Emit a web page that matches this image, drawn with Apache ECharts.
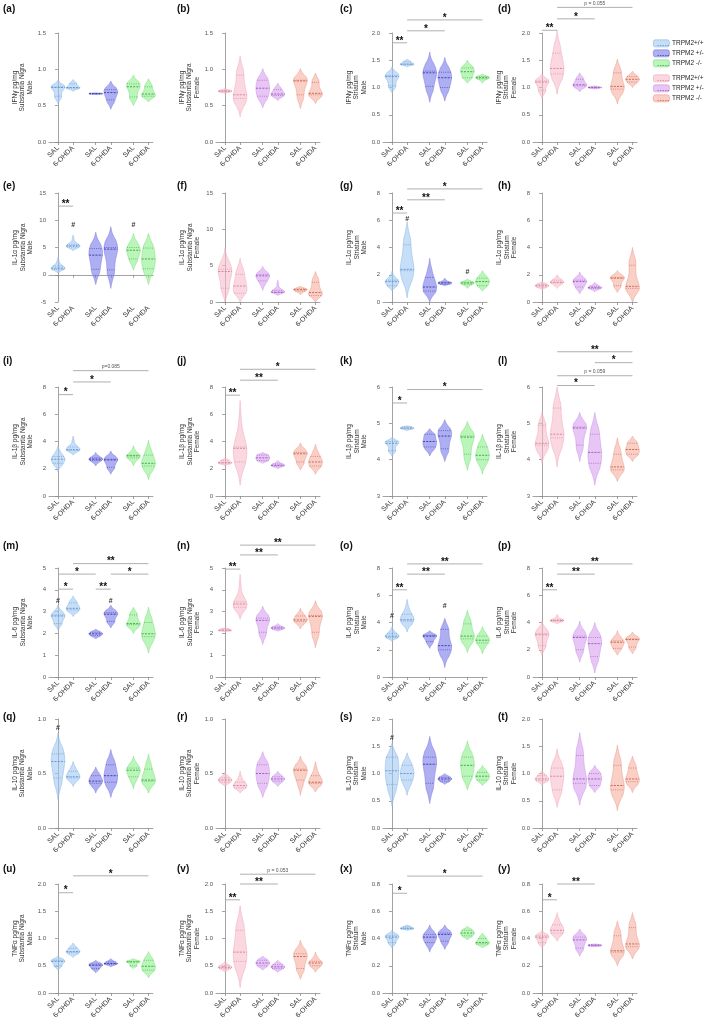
<!DOCTYPE html>
<html>
<head>
<meta charset="utf-8">
<script src="https://cdn.jsdelivr.net/npm/echarts@6.0.0/dist/echarts.min.js"></script>
<style>
html, body { margin: 0; padding: 0; background: #fff; }
#chart { width: 709px; height: 1023px; }
</style>
</head>
<body>
<div id="chart"></div>
<script>
// panel labels / axis titles
var panelLetters = ['a','b','c','d','e','f','g','h','i','j','k','l','m','n','o','p','q','r','s','t','u','v','x','y'];
var cytokines = ['IFNγ', 'IL-1α', 'IL-1β', 'IL-6', 'IL-10', 'TNFα'];
var regions = ['Substantia Nigra', 'Substantia Nigra', 'Striatum', 'Striatum'];
var sexes = ['Male', 'Female', 'Male', 'Female'];
var legendLabels = ['TRPM2+/+', 'TRPM2 +/-', 'TRPM2 -/-'];

// y axis per panel
var yMin  = [0, 0, 0, 0,   -5, 0, 0, 0,   0, 0, 3, 3,   0, 0, 0, 0,   0, 0, 0, 0,   0, 0, 0, 0];
var yMax  = [1.5, 1.5, 2, 2,   15, 15, 8, 8,   8, 8, 6, 6,   5, 5, 8, 8,   1, 1, 2, 2,   2, 2, 0.8, 0.8];
var yStep = [0.5, 0.5, 0.5, 0.5,   5, 5, 2, 2,   2, 2, 1, 1,   1, 1, 2, 2,   0.5, 0.5, 0.5, 0.5,   0.5, 0.5, 0.2, 0.2];

// x categories (TRPM2+/+ SAL, 6-OHDA, TRPM2+/- SAL, 6-OHDA, TRPM2-/- SAL, 6-OHDA)
var xPos = [0, 1, 2.5, 3.5, 5, 6];
var xLabels = ['SAL', '6-OHDA', 'SAL', '6-OHDA', 'SAL', '6-OHDA'];

// violins: [min, Q1, median, Q3, max] per group
var violinA = [[0.53,0.63,0.75,0.76,0.85],[0.70,0.74,0.75,0.80,0.86],[0.655,0.66,0.665,0.67,0.675],[0.45,0.58,0.68,0.72,0.84],[0.50,0.62,0.76,0.80,0.92],[0.55,0.63,0.66,0.76,0.87]];
var violinB = [[0.67,0.69,0.70,0.71,0.74],[0.35,0.60,0.65,0.92,1.18],[0.47,0.63,0.74,0.85,1.01],[0.57,0.64,0.66,0.72,0.81],[0.46,0.65,0.84,0.85,1.01],[0.53,0.65,0.67,0.82,0.95]];
var violinC = [[0.90,1.03,1.20,1.22,1.38],[1.38,1.42,1.43,1.47,1.52],[0.73,1.02,1.27,1.30,1.65],[0.75,1.00,1.18,1.28,1.55],[1.08,1.18,1.29,1.36,1.50],[1.08,1.16,1.18,1.20,1.25]];
var violinD = [[0.80,0.95,1.10,1.12,1.25],[0.88,1.25,1.35,1.63,2.05],[0.92,1.03,1.05,1.15,1.27],[0.97,0.99,1.00,1.01,1.03],[0.70,0.97,1.02,1.27,1.52],[1.00,1.10,1.15,1.20,1.30]];
var violinE = [[0.3,1.0,1.2,1.6,3.2],[4.4,5.1,5.3,5.5,7.3],[-1.8,1.0,3.6,4.8,7.8],[-2.5,0.9,4.7,5.0,8.8],[0.8,2.9,4.5,5.0,7.6],[-1.8,1.1,2.9,4.9,7.6]];
var violinF = [[0.0,1.9,4.2,4.5,7.4],[0.0,1.2,2.2,3.8,6.0],[1.6,2.9,3.6,3.8,4.9],[0.9,1.3,1.35,1.6,3.0],[1.0,1.5,1.7,1.8,2.2],[0.0,0.9,1.3,2.7,4.2]];
var violinG = [[0.8,1.2,1.5,1.6,2.25],[0.3,2.3,2.4,4.2,5.9],[0.0,0.8,1.1,1.8,3.2],[1.2,1.3,1.4,1.45,1.75],[1.0,1.3,1.4,1.45,1.7],[0.8,1.2,1.5,1.75,2.3]];
var violinH = [[0.9,1.1,1.2,1.3,1.5],[1.0,1.4,1.45,1.6,2.0],[0.6,1.1,1.5,1.6,2.2],[0.75,1.0,1.05,1.15,1.45],[0.7,1.2,1.75,1.8,2.3],[0.0,1.0,1.15,2.7,4.0]];
var violinI = [[1.8,2.4,2.7,2.9,3.7],[3.0,3.35,3.4,3.6,4.4],[2.2,2.6,2.7,2.8,3.2],[1.6,2.1,2.65,2.7,3.3],[2.2,2.8,2.95,3.0,3.7],[1.2,2.2,2.4,3.0,4.1]];
var violinJ = [[2.2,2.4,2.45,2.6,2.8],[0.8,2.5,3.5,3.6,7.0],[2.4,2.6,2.8,3.0,3.2],[2.0,2.2,2.25,2.35,2.6],[1.9,2.5,3.1,3.2,3.9],[1.6,2.2,2.5,2.9,3.8]];
var violinK = [[4.1,4.25,4.45,4.5,4.62],[4.8,4.85,4.87,4.9,4.93],[4.1,4.35,4.5,4.7,4.85],[3.95,4.3,4.65,4.8,5.1],[3.7,4.15,4.62,4.65,5.05],[3.6,4.0,4.12,4.35,4.7]];
var violinL = [[3.9,4.4,4.45,4.95,5.3],[3.8,4.6,4.7,5.42,6.0],[3.95,4.4,4.87,4.9,5.3],[3.3,3.9,4.2,4.7,5.3],[3.4,3.72,3.8,4.15,4.6],[3.95,4.15,4.28,4.45,4.65]];
var violinM = [[2.15,2.45,2.8,2.85,3.3],[2.77,3.08,3.15,3.4,3.72],[1.75,1.9,1.98,2.05,2.2],[2.25,2.55,2.88,2.95,3.3],[2.0,2.4,2.45,2.85,3.2],[1.1,1.85,1.98,2.5,3.2]];
var violinN = [[2.08,2.12,2.15,2.2,2.25],[2.65,3.2,3.35,3.45,4.7],[1.5,2.05,2.6,2.7,3.25],[2.1,2.2,2.25,2.3,2.45],[2.2,2.55,2.62,2.8,3.15],[1.35,2.05,2.78,2.82,3.5]];
var violinO = [[2.6,2.9,3.0,3.2,3.7],[3.3,4.1,4.2,4.6,5.7],[2.1,2.6,3.0,3.05,3.4],[0.7,2.0,2.3,3.5,4.3],[1.8,2.8,3.0,3.9,4.9],[1.7,2.5,2.7,3.0,3.7]];
var violinP = [[1.6,2.3,3.1,3.2,4.1],[3.9,4.1,4.15,4.2,4.6],[1.1,2.0,2.9,3.0,4.1],[0.3,1.5,2.45,2.9,4.0],[1.6,2.1,2.55,2.65,3.4],[1.7,2.2,2.75,2.8,3.3]];
var violinQ = [[0.26,0.46,0.61,0.68,0.87],[0.38,0.46,0.47,0.52,0.61],[0.32,0.41,0.43,0.48,0.56],[0.28,0.42,0.48,0.58,0.72],[0.36,0.47,0.53,0.55,0.66],[0.32,0.43,0.44,0.54,0.68]];
var violinR = [[0.38,0.42,0.44,0.46,0.51],[0.32,0.37,0.39,0.42,0.52],[0.28,0.41,0.5,0.58,0.70],[0.38,0.43,0.45,0.47,0.52],[0.3,0.44,0.53,0.54,0.66],[0.33,0.41,0.42,0.48,0.61]];
var violinS = [[0.4,0.8,1.05,1.3,1.55],[0.6,0.88,1.0,1.15,1.38],[0.45,0.82,1.17,1.3,1.68],[0.8,0.86,0.9,0.93,1.0],[0.7,0.95,1.15,1.3,1.6],[0.78,0.88,0.95,1.02,1.15]];
var violinT = [[0.78,0.87,0.9,0.96,1.05],[0.38,0.7,0.95,1.1,1.45],[0.42,0.82,0.9,1.33,1.75],[0.65,0.78,0.9,1.0,1.15],[0.32,0.7,0.78,1.15,1.52],[0.65,0.85,0.9,1.1,1.32]];
var violinU = [[0.42,0.5,0.58,0.6,0.68],[0.65,0.74,0.76,0.82,0.92],[0.37,0.45,0.51,0.53,0.6],[0.48,0.53,0.54,0.57,0.63],[0.45,0.5,0.57,0.58,0.63],[0.28,0.42,0.49,0.6,0.76]];
var violinV = [[0.38,0.45,0.47,0.5,0.58],[0.1,0.58,0.75,1.15,1.6],[0.42,0.5,0.55,0.6,0.68],[0.38,0.45,0.48,0.52,0.6],[0.25,0.45,0.67,0.72,0.97],[0.38,0.5,0.55,0.58,0.75]];
var violinX = [[0.33,0.37,0.41,0.42,0.46],[0.46,0.47,0.475,0.485,0.5],[0.3,0.37,0.41,0.43,0.5],[0.32,0.38,0.43,0.44,0.5],[0.39,0.42,0.44,0.46,0.49],[0.33,0.36,0.37,0.4,0.44]];
var violinY = [[0.33,0.37,0.41,0.42,0.46],[0.38,0.44,0.46,0.5,0.59],[0.27,0.33,0.39,0.41,0.47],[0.34,0.345,0.35,0.355,0.36],[0.2,0.3,0.31,0.42,0.53],[0.25,0.34,0.36,0.48,0.59]];

// significance bars: [panel, from group, to group, y, text]
var sigBars = [
  ['c',0,1,1.82,'**'], ['c',1,3,2.04,'*'], ['c',1,5,2.24,'*'],
  ['d',0,1,2.05,'**'], ['d',1,3,2.26,'*'], ['d',1,5,2.47,'p = 0.055'],
  ['e',0,1,12.6,'**'],
  ['g',0,1,6.53,'**'], ['g',1,3,7.5,'**'], ['g',1,5,8.3,'*'],
  ['i',0,1,7.44,'*'], ['i',1,3,8.37,'*'], ['i',1,5,9.2,'p=0.085'],
  ['j',0,1,7.4,'**'], ['j',1,3,8.5,'**'], ['j',1,5,9.3,'*'],
  ['k',0,1,5.56,'*'], ['k',1,5,5.93,'*'],
  ['l',1,3,6.04,'*'], ['l',1,5,6.31,'p = 0.059'], ['l',3,5,6.67,'*'], ['l',1,5,6.97,'**'],
  ['m',0,1,4.03,'*'], ['m',2,3,4.03,'**'], ['m',0,2,4.72,'*'], ['m',3,5,4.72,'*'], ['m',1,5,5.2,'**'],
  ['n',0,1,4.95,'**'], ['n',1,3,5.6,'**'], ['n',1,5,6.05,'**'],
  ['o',0,1,6.4,'**'], ['o',1,3,7.55,'**'], ['o',1,5,8.3,'**'],
  ['p',0,1,6.4,'**'], ['p',1,3,7.55,'**'], ['p',1,5,8.3,'**'],
  ['u',0,1,1.84,'*'], ['u',1,5,2.15,'*'],
  ['v',0,1,1.71,'**'], ['v',1,3,2.0,'**'], ['v',1,5,2.18,'p = 0.053'],
  ['x',0,1,0.732,'*'], ['x',1,5,0.858,'*'],
  ['y',0,1,0.684,'*'], ['y',1,3,0.8,'**']
];
// "#" markers: [panel, group, y]
var hashMarks = [
  ['e',1,9.1], ['e',4,9.1], ['g',1,6.1], ['g',4,2.2],
  ['m',0,3.5], ['m',3,3.5], ['o',0,4.5], ['o',3,5.2],
  ['q',0,0.92], ['s',0,1.65]
];

var violins = [violinA, violinB, violinC, violinD, violinE, violinF, violinG, violinH,
  violinI, violinJ, violinK, violinL, violinM, violinN, violinO, violinP,
  violinQ, violinR, violinS, violinT, violinU, violinV, violinX, violinY];

var maleColors = [
  { fill: 'rgba(160,200,242,0.6)', edge: '#93bde8', line: '#5d8fcf' },
  { fill: 'rgba(120,120,235,0.6)', edge: '#8585e0', line: '#3535a5' },
  { fill: 'rgba(140,240,140,0.6)', edge: '#86e086', line: '#35a535' }
];
var femaleColors = [
  { fill: 'rgba(248,190,205,0.6)', edge: '#f0b0c0', line: '#d47d92' },
  { fill: 'rgba(215,160,240,0.6)', edge: '#cd9ee6', line: '#9a4fc0' },
  { fill: 'rgba(246,175,160,0.6)', edge: '#eba595', line: '#c65c48' }
];

var colLeft = [49, 216, 383, 533];
var rowTop = [33, 193, 387, 568, 719, 884];
var plotW = 104, plotH = 109;
var letterX = [3, 177, 340, 498];
var letterY = [10, 187, 362, 547, 718, 870];

// smooth violin profile from the five numbers
function density(s, y) {
  var lo = s[0], hi = s[4], range = Math.max(hi - lo, 1e-6);
  var h = range / 6.5;
  var pts = [[s[1], 1], [s[2], 1.2], [s[3], 1],
    [lo + 0.3 * (s[1] - lo), 0.35], [hi - 0.3 * (hi - s[3]), 0.35]];
  var d = 0;
  pts.forEach(function(p) {
    var z = (y - p[0]) / h;
    d += p[1] * Math.exp(-0.5 * z * z);
  });
  var t = Math.min(1, (y - lo) / (0.22 * range), (hi - y) / (0.22 * range));
  return d * Math.pow(Math.max(t, 0), 0.8);
}

function violinRenderer(female) {
  return function(params, api) {
    var g = api.value(6);
    var s = [api.value(1), api.value(2), api.value(3), api.value(4), api.value(5)];
    var pal = (female ? femaleColors : maleColors)[Math.floor(g / 2)];
    var cx = api.coord([api.value(0), s[2]])[0];
    var halfW = api.size([0.45, 0])[0];
    var N = 60, ys = [], ds = [], maxD = 0, i;
    for (i = 0; i <= N; i++) {
      var y = s[0] + (s[4] - s[0]) * i / N;
      var d = density(s, y);
      ys.push(y); ds.push(d);
      if (d > maxD) maxD = d;
    }
    var right = [], left = [];
    for (i = 0; i <= N; i++) {
      var py = api.coord([0, ys[i]])[1];
      var w = halfW * ds[i] / maxD;
      right.push([cx + w, py]);
      left.unshift([cx - w, py]);
    }
    var children = [{
      type: 'polygon',
      shape: { points: right.concat(left) },
      style: { fill: pal.fill, stroke: pal.edge, lineWidth: 0.6 }
    }];
    function lineAt(v, dash, lw) {
      var w = halfW * density(s, v) / maxD;
      var py = api.coord([0, v])[1];
      return {
        type: 'line',
        shape: { x1: cx - w, y1: py, x2: cx + w, y2: py },
        style: { stroke: pal.line, lineWidth: lw, lineDash: dash }
      };
    }
    children.push(lineAt(s[1], [1, 1.2], 0.6));
    children.push(lineAt(s[3], [1, 1.2], 0.6));
    children.push(lineAt(s[2], [2, 1.2], 0.9));
    return { type: 'group', children: children };
  };
}

function nearestLabel(v) {
  for (var i = 0; i < xPos.length; i++) {
    if (Math.abs(xPos[i] - v) < 1e-6) return xLabels[i];
  }
  return '';
}

var grids = [], xAxes = [], yAxes = [], series = [], graphics = [];

panelLetters.forEach(function(letter, p) {
  var row = Math.floor(p / 4), col = p % 4;
  var female = col % 2 === 1;
  var dec = yStep[p] < 1 ? 1 : 0;

  grids.push({ left: colLeft[col], top: rowTop[row], width: plotW, height: plotH });
  xAxes.push({
    gridIndex: p, type: 'value', min: -0.6, max: 6.3,
    axisLine: { lineStyle: { color: '#8c8c8c', width: 0.8 } },
    axisTick: { show: true, customValues: xPos, length: 3, lineStyle: { color: '#8c8c8c', width: 0.8 } },
    axisLabel: { customValues: xPos, rotate: 45, fontSize: 7, color: '#333', margin: 5, formatter: nearestLabel },
    splitLine: { show: false }
  });
  yAxes.push({
    gridIndex: p, type: 'value', min: yMin[p], max: yMax[p], interval: yStep[p],
    name: cytokines[row] + ' pg/mg\n' + regions[col] + '\n' + sexes[col],
    nameLocation: 'middle', nameRotate: 90, nameGap: 15,
    nameTextStyle: { fontSize: 6.5, lineHeight: 7.5, color: '#333', align: 'center' },
    axisLine: { show: true, lineStyle: { color: '#8c8c8c', width: 0.8 } },
    axisTick: { show: true, length: 3, lineStyle: { color: '#8c8c8c', width: 0.8 } },
    axisLabel: { fontSize: 6, color: '#555', margin: 3, formatter: function(v) { return v.toFixed(dec); } },
    splitLine: { show: false }
  });

  series.push({
    type: 'custom', xAxisIndex: p, yAxisIndex: p, clip: false, silent: true,
    data: violins[p].map(function(s, g) { return [xPos[g]].concat(s).concat([g]); }),
    renderItem: violinRenderer(female)
  });

  var bars = sigBars.filter(function(b) { return b[0] === letter; });
  series.push({
    type: 'custom', xAxisIndex: p, yAxisIndex: p, clip: false, silent: true,
    data: bars.map(function(b) { return [xPos[b[1]], xPos[b[2]], b[3]]; }),
    renderItem: function(params, api) {
      var b = bars[params.dataIndex];
      var p1 = api.coord([api.value(0), api.value(2)]);
      var p2 = api.coord([api.value(1), api.value(2)]);
      var isP = b[4].charAt(0) === 'p';
      return {
        type: 'group',
        children: [
          { type: 'line', shape: { x1: p1[0], y1: p1[1], x2: p2[0], y2: p2[1] },
            style: { stroke: '#a6a6a6', lineWidth: 0.9 } },
          { type: 'text', x: (p1[0] + p2[0]) / 2, y: isP ? p1[1] - 1.5 : p1[1] + 3,
            style: { text: b[4], fontSize: isP ? 5 : 10, fontWeight: isP ? 'normal' : 'bold',
              fill: isP ? '#555' : '#111', align: 'center', verticalAlign: 'bottom',
              fontFamily: 'Liberation Sans' } }
        ]
      };
    }
  });

  var hashes = hashMarks.filter(function(h) { return h[0] === letter; });
  series.push({
    type: 'custom', xAxisIndex: p, yAxisIndex: p, clip: false, silent: true,
    data: hashes.map(function(h) { return [xPos[h[1]], h[2]]; }),
    renderItem: function(params, api) {
      var c = api.coord([api.value(0), api.value(1)]);
      return { type: 'text', x: c[0], y: c[1],
        style: { text: '#', fontSize: 7, fontWeight: 'bold', fill: '#333', align: 'center', verticalAlign: 'middle',
          fontFamily: 'Liberation Sans' } };
    }
  });

  graphics.push({
    type: 'text', left: letterX[col], top: letterY[row] - 6,
    style: { text: '(' + letter + ')', fontSize: 10, fontWeight: 'bold', fill: '#111',
      fontFamily: 'Liberation Sans' }
  });
});

// legend: male block then female block
var legendY = [43, 53, 63, 78, 88, 98];
legendY.forEach(function(y, i) {
  var pal = (i < 3 ? maleColors : femaleColors)[i % 3];
  graphics.push({
    type: 'rect', left: 653, top: y - 3.5,
    shape: { width: 16, height: 7, r: 2 },
    style: { fill: pal.fill, stroke: pal.edge, lineWidth: 0.7 }
  });
  graphics.push({
    type: 'line', left: 655, top: y,
    shape: { x1: 0, y1: 0, x2: 12, y2: 0 },
    style: { stroke: pal.line, lineWidth: 0.7, lineDash: [1.5, 1] }
  });
  graphics.push({
    type: 'text', left: 672, top: y - 3.5,
    style: { text: legendLabels[i % 3], fontSize: 6.5, fill: '#222', fontFamily: 'Liberation Sans' }
  });
});

var chart = echarts.init(document.getElementById('chart'));
chart.setOption({
  animation: false,
  backgroundColor: '#fff',
  textStyle: { fontFamily: 'Liberation Sans' },
  grid: grids,
  xAxis: xAxes,
  yAxis: yAxes,
  series: series,
  graphic: graphics
});
</script>
</body>
</html>
